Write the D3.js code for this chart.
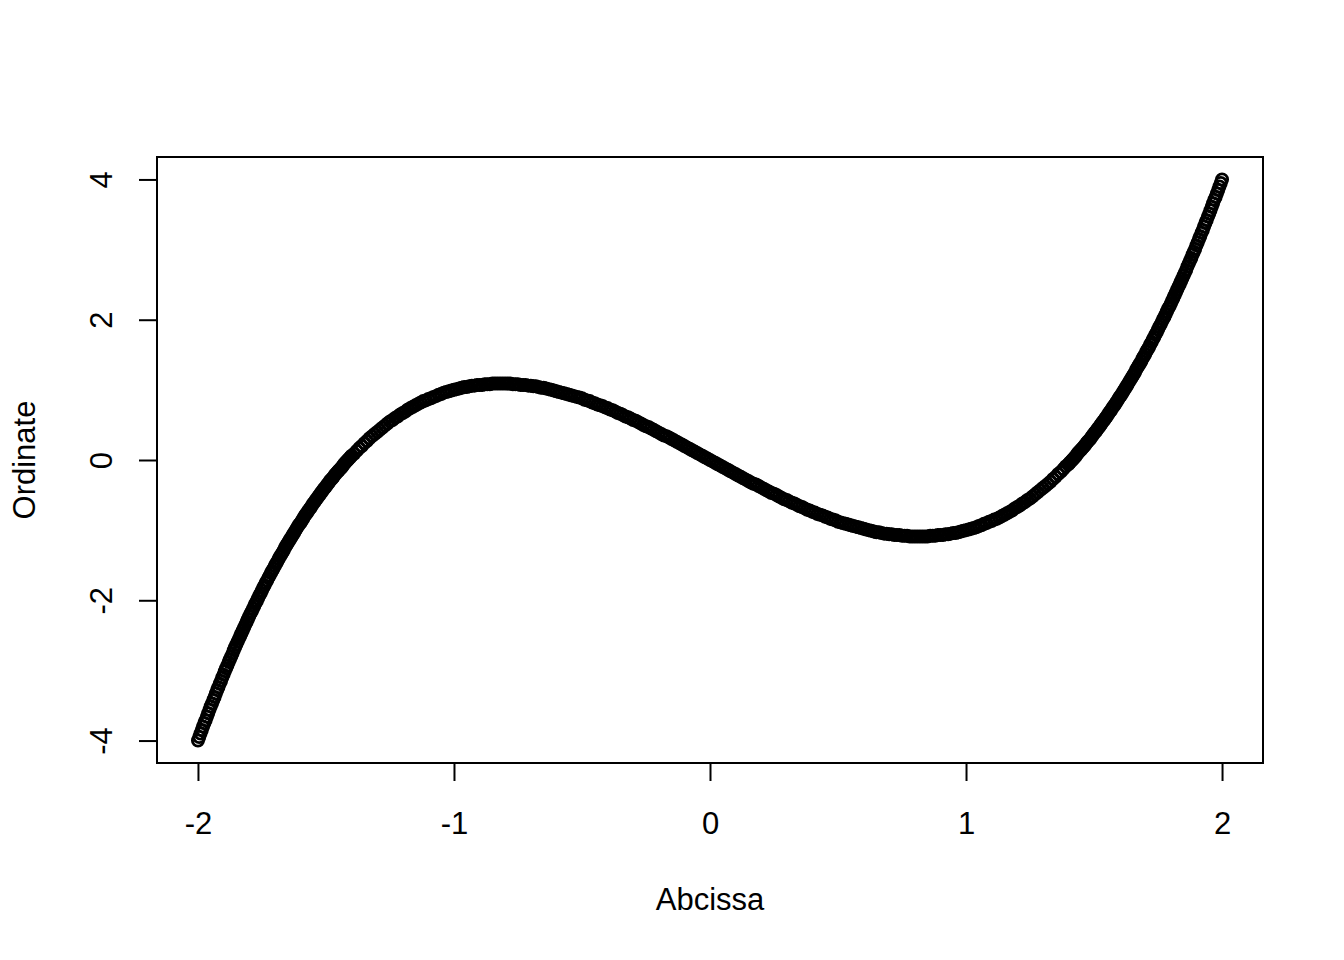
<!DOCTYPE html>
<html>
<head>
<meta charset="utf-8">
<script src="https://cdn.jsdelivr.net/npm/d3@7"></script>
<style>
  html, body { margin: 0; padding: 0; background: #ffffff; }
  svg { display: block; }
  text { font-family: "Liberation Sans", Arial, sans-serif; fill: #000; }
</style>
</head>
<body>
<svg id="chart" width="1344" height="960"></svg>
<script>
// ---- data ----
const xTicks = [-2, -1, 0, 1, 2];
const yTicks = [-4, -2, 0, 2, 4];
const xLabel = "Abcissa";
const yLabel = "Ordinate";
const xDomain = [-2.16, 2.16];
const yDomain = [-4.32, 4.32];

const points = [
[-2,-4],[-1.995,-3.95],[-1.99,-3.9],[-1.985,-3.85],[-1.98,-3.8],[-1.975,-3.75],[-1.97,-3.71],[-1.965,-3.66],[-1.96,-3.61],[-1.955,-3.56],
[-1.95,-3.51],[-1.945,-3.47],[-1.94,-3.42],[-1.935,-3.38],[-1.93,-3.33],[-1.925,-3.28],[-1.92,-3.24],[-1.915,-3.19],[-1.91,-3.15],[-1.905,-3.1],
[-1.9,-3.06],[-1.895,-3.01],[-1.89,-2.97],[-1.885,-2.93],[-1.88,-2.88],[-1.875,-2.84],[-1.87,-2.8],[-1.865,-2.76],[-1.86,-2.71],[-1.855,-2.67],
[-1.85,-2.63],[-1.845,-2.59],[-1.84,-2.55],[-1.835,-2.51],[-1.83,-2.47],[-1.825,-2.43],[-1.82,-2.39],[-1.815,-2.35],[-1.81,-2.31],[-1.805,-2.27],
[-1.8,-2.23],[-1.795,-2.19],[-1.79,-2.16],[-1.785,-2.12],[-1.78,-2.08],[-1.775,-2.04],[-1.77,-2.01],[-1.765,-1.97],[-1.76,-1.93],[-1.755,-1.9],
[-1.75,-1.86],[-1.745,-1.82],[-1.74,-1.79],[-1.735,-1.75],[-1.73,-1.72],[-1.725,-1.68],[-1.72,-1.65],[-1.715,-1.61],[-1.71,-1.58],[-1.705,-1.55],
[-1.7,-1.51],[-1.695,-1.48],[-1.69,-1.45],[-1.685,-1.41],[-1.68,-1.38],[-1.675,-1.35],[-1.67,-1.32],[-1.665,-1.29],[-1.66,-1.25],[-1.655,-1.22],
[-1.65,-1.19],[-1.645,-1.16],[-1.64,-1.13],[-1.635,-1.1],[-1.63,-1.07],[-1.625,-1.04],[-1.62,-1.01],[-1.615,-0.98],[-1.61,-0.95],[-1.605,-0.92],
[-1.6,-0.9],[-1.595,-0.87],[-1.59,-0.84],[-1.585,-0.81],[-1.58,-0.78],[-1.575,-0.76],[-1.57,-0.73],[-1.565,-0.7],[-1.56,-0.68],[-1.555,-0.65],
[-1.55,-0.62],[-1.545,-0.6],[-1.54,-0.57],[-1.535,-0.55],[-1.53,-0.52],[-1.525,-0.5],[-1.52,-0.47],[-1.515,-0.45],[-1.51,-0.42],[-1.505,-0.4],
[-1.5,-0.38],[-1.495,-0.35],[-1.49,-0.33],[-1.485,-0.3],[-1.48,-0.28],[-1.475,-0.26],[-1.47,-0.24],[-1.465,-0.21],[-1.46,-0.19],[-1.455,-0.17],
[-1.45,-0.15],[-1.445,-0.13],[-1.44,-0.11],[-1.435,-0.09],[-1.43,-0.06],[-1.425,-0.04],[-1.42,-0.02],[-1.415,0],[-1.41,0.02],[-1.405,0.04],
[-1.4,0.06],[-1.39,0.09],[-1.38,0.13],[-1.37,0.17],[-1.36,0.2],
[-1.35,0.24],[-1.34,0.27],[-1.33,0.31],[-1.32,0.34],[-1.31,0.37],[-1.3,0.4],[-1.29,0.43],[-1.28,0.46],[-1.27,0.49],[-1.26,0.52],
[-1.25,0.55],[-1.24,0.57],[-1.23,0.6],[-1.22,0.62],[-1.21,0.65],[-1.2,0.67],[-1.19,0.69],[-1.18,0.72],[-1.17,0.74],[-1.16,0.76],
[-1.15,0.78],[-1.14,0.8],[-1.13,0.82],[-1.12,0.84],[-1.11,0.85],[-1.1,0.87],[-1.09,0.88],[-1.08,0.9],[-1.07,0.91],[-1.06,0.93],
[-1.05,0.94],[-1.04,0.96],[-1.03,0.97],[-1.02,0.98],[-1.01,0.99],[-1,1],[-0.99,1.01],[-0.98,1.02],[-0.97,1.03],[-0.96,1.04],
[-0.95,1.04],[-0.94,1.05],[-0.93,1.06],[-0.92,1.06],[-0.91,1.07],[-0.9,1.07],[-0.89,1.07],[-0.88,1.08],[-0.87,1.08],[-0.86,1.08],
[-0.85,1.09],[-0.84,1.09],[-0.83,1.09],[-0.82,1.09],[-0.81,1.09],[-0.8,1.09],[-0.79,1.09],[-0.78,1.09],[-0.77,1.08],[-0.76,1.08],
[-0.75,1.08],[-0.74,1.07],[-0.73,1.07],[-0.72,1.07],[-0.71,1.06],[-0.7,1.06],[-0.69,1.05],[-0.68,1.05],[-0.67,1.04],[-0.66,1.03],
[-0.65,1.03],[-0.64,1.02],[-0.63,1.01],[-0.62,1],[-0.61,0.99],[-0.6,0.98],[-0.59,0.97],[-0.58,0.96],[-0.57,0.95],[-0.56,0.94],
[-0.55,0.93],[-0.54,0.92],[-0.53,0.91],[-0.52,0.9],[-0.51,0.89],[-0.5,0.88],[-0.49,0.86],[-0.48,0.85],[-0.47,0.84],[-0.46,0.82],
[-0.45,0.81],[-0.44,0.79],[-0.43,0.78],[-0.42,0.77],[-0.41,0.75],[-0.4,0.74],[-0.39,0.72],[-0.38,0.71],[-0.37,0.69],[-0.36,0.67],
[-0.35,0.66],[-0.34,0.64],[-0.33,0.62],[-0.32,0.61],[-0.31,0.59],[-0.3,0.57],[-0.29,0.56],[-0.28,0.54],[-0.27,0.52],[-0.26,0.5],
[-0.25,0.48],[-0.24,0.47],[-0.23,0.45],[-0.22,0.43],[-0.21,0.41],[-0.2,0.39],[-0.19,0.37],[-0.18,0.35],[-0.17,0.34],[-0.16,0.32],
[-0.15,0.3],[-0.14,0.28],[-0.13,0.26],[-0.12,0.24],[-0.11,0.22],[-0.1,0.2],[-0.09,0.18],[-0.08,0.16],[-0.07,0.14],[-0.06,0.12],
[-0.05,0.1],[-0.04,0.08],[-0.03,0.06],[-0.02,0.04],[-0.01,0.02],[0,0],
[0.01,-0.02],[0.02,-0.04],[0.03,-0.06],[0.04,-0.08],[0.05,-0.1],[0.06,-0.12],[0.07,-0.14],[0.08,-0.16],[0.09,-0.18],[0.1,-0.2],
[0.11,-0.22],[0.12,-0.24],[0.13,-0.26],[0.14,-0.28],[0.15,-0.3],[0.16,-0.32],[0.17,-0.34],[0.18,-0.35],[0.19,-0.37],[0.2,-0.39],
[0.21,-0.41],[0.22,-0.43],[0.23,-0.45],[0.24,-0.47],[0.25,-0.48],[0.26,-0.5],[0.27,-0.52],[0.28,-0.54],[0.29,-0.56],[0.3,-0.57],
[0.31,-0.59],[0.32,-0.61],[0.33,-0.62],[0.34,-0.64],[0.35,-0.66],[0.36,-0.67],[0.37,-0.69],[0.38,-0.71],[0.39,-0.72],[0.4,-0.74],
[0.41,-0.75],[0.42,-0.77],[0.43,-0.78],[0.44,-0.79],[0.45,-0.81],[0.46,-0.82],[0.47,-0.84],[0.48,-0.85],[0.49,-0.86],[0.5,-0.88],
[0.51,-0.89],[0.52,-0.9],[0.53,-0.91],[0.54,-0.92],[0.55,-0.93],[0.56,-0.94],[0.57,-0.95],[0.58,-0.96],[0.59,-0.97],[0.6,-0.98],
[0.61,-0.99],[0.62,-1],[0.63,-1.01],[0.64,-1.02],[0.65,-1.03],[0.66,-1.03],[0.67,-1.04],[0.68,-1.05],[0.69,-1.05],[0.7,-1.06],
[0.71,-1.06],[0.72,-1.07],[0.73,-1.07],[0.74,-1.07],[0.75,-1.08],[0.76,-1.08],[0.77,-1.08],[0.78,-1.09],[0.79,-1.09],[0.8,-1.09],
[0.81,-1.09],[0.82,-1.09],[0.83,-1.09],[0.84,-1.09],[0.85,-1.09],[0.86,-1.08],[0.87,-1.08],[0.88,-1.08],[0.89,-1.07],[0.9,-1.07],
[0.91,-1.07],[0.92,-1.06],[0.93,-1.06],[0.94,-1.05],[0.95,-1.04],[0.96,-1.04],[0.97,-1.03],[0.98,-1.02],[0.99,-1.01],[1,-1],
[1.01,-0.99],[1.02,-0.98],[1.03,-0.97],[1.04,-0.96],[1.05,-0.94],[1.06,-0.93],[1.07,-0.91],[1.08,-0.9],[1.09,-0.88],[1.1,-0.87],
[1.11,-0.85],[1.12,-0.84],[1.13,-0.82],[1.14,-0.8],[1.15,-0.78],[1.16,-0.76],[1.17,-0.74],[1.18,-0.72],[1.19,-0.69],[1.2,-0.67],
[1.21,-0.65],[1.22,-0.62],[1.23,-0.6],[1.24,-0.57],[1.25,-0.55],[1.26,-0.52],[1.27,-0.49],[1.28,-0.46],[1.29,-0.43],[1.3,-0.4],
[1.31,-0.37],[1.32,-0.34],[1.33,-0.31],[1.34,-0.27],[1.35,-0.24],[1.36,-0.2],[1.37,-0.17],[1.38,-0.13],[1.39,-0.09],[1.4,-0.06],
[1.405,-0.04],[1.41,-0.02],[1.415,0],[1.42,0.02],[1.425,0.04],[1.43,0.06],[1.435,0.09],[1.44,0.11],[1.445,0.13],[1.45,0.15],
[1.455,0.17],[1.46,0.19],[1.465,0.21],[1.47,0.24],[1.475,0.26],[1.48,0.28],[1.485,0.3],[1.49,0.33],[1.495,0.35],[1.5,0.38],
[1.505,0.4],[1.51,0.42],[1.515,0.45],[1.52,0.47],[1.525,0.5],[1.53,0.52],[1.535,0.55],[1.54,0.57],[1.545,0.6],[1.55,0.62],
[1.555,0.65],[1.56,0.68],[1.565,0.7],[1.57,0.73],[1.575,0.76],[1.58,0.78],[1.585,0.81],[1.59,0.84],[1.595,0.87],[1.6,0.9],
[1.605,0.92],[1.61,0.95],[1.615,0.98],[1.62,1.01],[1.625,1.04],[1.63,1.07],[1.635,1.1],[1.64,1.13],[1.645,1.16],[1.65,1.19],
[1.655,1.22],[1.66,1.25],[1.665,1.29],[1.67,1.32],[1.675,1.35],[1.68,1.38],[1.685,1.41],[1.69,1.45],[1.695,1.48],[1.7,1.51],
[1.705,1.55],[1.71,1.58],[1.715,1.61],[1.72,1.65],[1.725,1.68],[1.73,1.72],[1.735,1.75],[1.74,1.79],[1.745,1.82],[1.75,1.86],
[1.755,1.9],[1.76,1.93],[1.765,1.97],[1.77,2.01],[1.775,2.04],[1.78,2.08],[1.785,2.12],[1.79,2.16],[1.795,2.19],[1.8,2.23],
[1.805,2.27],[1.81,2.31],[1.815,2.35],[1.82,2.39],[1.825,2.43],[1.83,2.47],[1.835,2.51],[1.84,2.55],[1.845,2.59],[1.85,2.63],
[1.855,2.67],[1.86,2.71],[1.865,2.76],[1.87,2.8],[1.875,2.84],[1.88,2.88],[1.885,2.93],[1.89,2.97],[1.895,3.01],[1.9,3.06],
[1.905,3.1],[1.91,3.15],[1.915,3.19],[1.92,3.24],[1.925,3.28],[1.93,3.33],[1.935,3.38],[1.94,3.42],[1.945,3.47],[1.95,3.51],
[1.955,3.56],[1.96,3.61],[1.965,3.66],[1.97,3.71],[1.975,3.75],[1.98,3.8],[1.985,3.85],[1.99,3.9],[1.995,3.95],[2,4]
];

// ---- layout ----
const W = 1344, H = 960;
const plot = { left: 157, right: 1263, top: 157, bottom: 763 };
const tickLen = 18;
const fontSize = 31;
const fmt = d => String(d);   // plain hyphen-minus, as in the reference

const svg = d3.select("#chart");
svg.append("rect").attr("width", W).attr("height", H).attr("fill", "#ffffff");

const x = d3.scaleLinear().domain(xDomain).range([plot.left, plot.right]);
const y = d3.scaleLinear().domain(yDomain).range([plot.bottom, plot.top]);

// points (open circles, like R pch = 1)
svg.append("g")
  .selectAll("circle")
  .data(points)
  .join("circle")
  .attr("cx", d => x(d[0]))
  .attr("cy", d => y(d[1]))
  .attr("r", 5.6)
  .attr("fill", "none")
  .attr("stroke", "#000")
  .attr("stroke-width", 2.8);

// x axis
const gx = svg.append("g")
  .attr("transform", `translate(0,${plot.bottom})`)
  .call(d3.axisBottom(x).tickValues(xTicks).tickSize(tickLen).tickSizeOuter(0).tickFormat(fmt));
gx.select(".domain").remove();
gx.selectAll(".tick line").attr("stroke", "#000").attr("stroke-width", 2);
gx.selectAll(".tick text")
  .attr("y", 71).attr("dy", null)
  .style("font-family", '"Liberation Sans", Arial, sans-serif')
  .style("font-size", fontSize + "px")
  .attr("fill", "#000");

// y axis
const gy = svg.append("g")
  .attr("transform", `translate(${plot.left},0)`)
  .call(d3.axisLeft(y).tickValues(yTicks).tickSize(tickLen).tickSizeOuter(0).tickFormat(fmt));
gy.select(".domain").remove();
gy.selectAll(".tick line").attr("stroke", "#000").attr("stroke-width", 2);
gy.selectAll(".tick text")
  .attr("x", 0).attr("dy", null)
  .attr("text-anchor", "middle")
  .attr("transform", "translate(-45,0) rotate(-90)")
  .style("font-family", '"Liberation Sans", Arial, sans-serif')
  .style("font-size", fontSize + "px")
  .attr("fill", "#000");

// box
svg.append("rect")
  .attr("x", plot.left).attr("y", plot.top)
  .attr("width", plot.right - plot.left)
  .attr("height", plot.bottom - plot.top)
  .attr("fill", "none")
  .attr("stroke", "#000")
  .attr("stroke-width", 2);

// axis titles
svg.append("text")
  .attr("x", (plot.left + plot.right) / 2)
  .attr("y", 910)
  .attr("text-anchor", "middle")
  .style("font-size", fontSize + "px")
  .text(xLabel);

svg.append("text")
  .attr("transform", `translate(35,${(plot.top + plot.bottom) / 2}) rotate(-90)`)
  .attr("text-anchor", "middle")
  .style("font-size", fontSize + "px")
  .text(yLabel);
</script>
</body>
</html>
